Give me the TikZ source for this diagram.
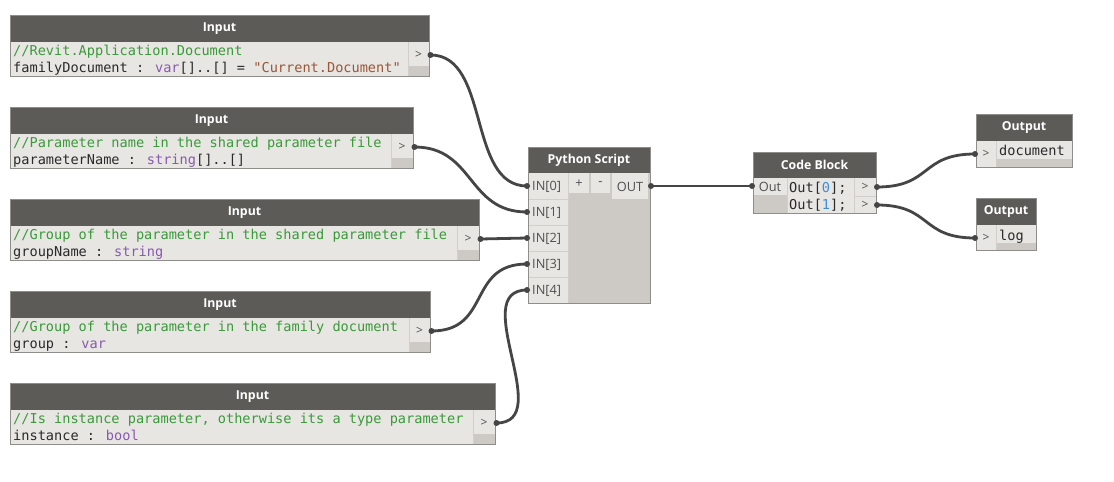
\documentclass[tikz,border=0pt]{standalone}
\usepackage{fontspec}
\newfontfamily\uifont{Open Sans}
\newfontfamily\codefont{DejaVu Sans Mono}

\definecolor{hdrfill}{HTML}{5C5B58}
\definecolor{lightcell}{HTML}{E8E6E3}
\definecolor{darkcell}{HTML}{CDC9C4}
\definecolor{edgegray}{HTML}{8F8D89}
\definecolor{sepgray}{HTML}{D2CFCA}
\definecolor{wiregray}{HTML}{454545}
\definecolor{cmtgreen}{HTML}{3A9A3A}
\definecolor{kwpurple}{HTML}{8A58B0}
\definecolor{strbrown}{HTML}{9A5636}
\definecolor{numblue}{HTML}{3C8CDC}
\definecolor{codeblack}{HTML}{2A2A2A}
\definecolor{uigray}{HTML}{505050}

\tikzset{
  hdr/.style={fill=hdrfill},
  lite/.style={fill=lightcell},
  dark/.style={fill=darkcell},
  sep/.style={draw=sepgray, line width=0.8pt},
  border/.style={draw=edgegray, line width=1pt},
  title/.style={text=white, inner sep=0pt, font=\uifont\bfseries\fontsize{12.3}{14}\selectfont},
  code/.style={text=codeblack, inner sep=0pt, font=\codefont\fontsize{13.6}{17}\selectfont},
  portsym/.style={text=uigray, inner sep=0pt, font=\uifont\fontsize{12}{14}\selectfont},
  portlbl/.style={text=uigray, inner sep=0pt, font=\uifont\fontsize{12.8}{14}\selectfont},
  wire/.style={draw=wiregray, line width=2.8pt},
  plug/.style={fill=wiregray},
}

\newcommand\cmt[1]{\textcolor{cmtgreen}{#1}}
\newcommand\kw[1]{\textcolor{kwpurple}{#1}}
\newcommand\strlit[1]{\textcolor{strbrown}{#1}}
\newcommand\num[1]{\textcolor{numblue}{#1}}

% Input node: #1 name, #2 top, #3 left edge of the port column, #4 right edge,
% #5 comment line, #6 declaration line
\newcommand\dynInput[6]{%
  \fill[hdr] (10,#2) rectangle (#4,#2+27);
  \node[title] (#1-title) at ({(10+#4)/2},#2+13.5) {Input};
  \fill[lite] (10,#2+27) rectangle (#4,#2+61);
  \fill[dark] (#3,#2+51) rectangle (#4,#2+61);
  \draw[sep] (#3,#2+27) -- (#3,#2+61);
  \node[code, anchor=base west] (#1-cmt) at (13,#2+40.5) {\cmt{#5}};
  \node[code, anchor=base west] (#1-decl) at (13,#2+57.5) {#6};
  \node[portsym] (#1-sym) at ({(#3+#4)/2},#2+40) {>};
  \node[border, anchor=north west, inner sep=0pt,
        minimum width={#4-10}, minimum height=61] (#1) at (10,#2) {};
  \coordinate (#1-out) at (#4+1.5,#2+40);
}

\begin{document}
\begin{tikzpicture}[x=1pt, y=-1pt]
\useasboundingbox[fill=white] (0,0) rectangle (1114,482);

% ---- input nodes ----
\dynInput{docin}{15}{408}{429}{//Revit.Application.Document}%
  {familyDocument : \kw{var}[]..[] = \strlit{"Current.Document"}}
\dynInput{parin}{107}{391}{413}{//Parameter name in the shared parameter file}%
  {parameterName : \kw{string}[]..[]}
\dynInput{grpin}{199}{457}{479}{//Group of the parameter in the shared parameter file}%
  {groupName : \kw{string}}
\dynInput{famgrpin}{291}{409}{430}{//Group of the parameter in the family document}%
  {group : \kw{var}}
\dynInput{instin}{383}{473}{495}{//Is instance parameter, otherwise its a type parameter}%
  {instance : \kw{bool}}

% ---- Python Script node ----
\fill[hdr] (528,147) rectangle (650,173);
\node[title] (py-title) at (589,160) {Python Script};
\fill[dark] (528,173) rectangle (650,303);
\fill[lite] (528,173) rectangle (568,303);
\foreach \k in {199,225,251,277} \draw[sep] (528,\k) -- (568,\k);
\draw[sep] (568,173) -- (568,303);
\fill[lite] (569,173) rectangle (589,193);
\fill[lite] (591,173) rectangle (610,193);
\fill[lite] (612,173) rectangle (648,199);
\node[portlbl] (py-plus) at (579,184) {+};
\node[portlbl] (py-minus) at (600.5,184) {-};
\node[portlbl] (py-outlbl) at (630,186.5) {OUT};
\foreach \k in {0,...,4}
  \node[portlbl, anchor=west] (py-lbl\k) at (532,186.5+26*\k) {IN[\k]};
\node[border, anchor=north west, inner sep=0pt,
      minimum width=122, minimum height=156] (py) at (528,147) {};
\foreach \k in {0,...,4} \coordinate (py-in\k) at (527,186+26*\k);
\coordinate (py-out) at (651,186);

% ---- Code Block node ----
\fill[hdr] (753,152) rectangle (876,178);
\node[title] (cb-title) at (814.5,165) {Code Block};
\fill[lite] (753,178) rectangle (876,213);
\fill[dark] (753,195) rectangle (787,213);
\draw[sep] (787,178) -- (787,213);
\draw[sep] (854,178) -- (854,213);
\draw[sep] (854,196) -- (876,196);
\node[portlbl] (cb-inlbl) at (770,187) {Out};
\node[code, anchor=base west] (cb-l0) at (789,192.5) {Out[\num{0}];};
\node[code, anchor=base west] (cb-l1) at (789,209.5) {Out[\num{1}];};
\node[portsym] (cb-sym0) at (865,187) {>};
\node[portsym] (cb-sym1) at (865,205) {>};
\node[border, anchor=north west, inner sep=0pt,
      minimum width=123, minimum height=61] (cb) at (753,152) {};
\coordinate (cb-in) at (752,186);
\coordinate (cb-out0) at (877,187);
\coordinate (cb-out1) at (877,205);

% ---- Output nodes ----
\fill[hdr] (976,114) rectangle (1072,141);
\node[title] (o1-title) at (1024,127.5) {Output};
\fill[lite] (976,141) rectangle (1072,167);
\fill[dark] (996,159) rectangle (1072,167);
\draw[sep] (996,141) -- (996,167);
\node[portsym] (o1-sym) at (986,154) {>};
\node[code, anchor=base west] (o1-txt) at (999,155) {document};
\node[border, anchor=north west, inner sep=0pt,
      minimum width=96, minimum height=53] (o1) at (976,114) {};
\coordinate (o1-in) at (975,154);

\fill[hdr] (976,198) rectangle (1036,225);
\node[title] (o2-title) at (1006,211.5) {Output};
\fill[lite] (976,225) rectangle (1036,250);
\fill[dark] (996,243) rectangle (1036,250);
\draw[sep] (996,225) -- (996,250);
\node[portsym] (o2-sym) at (986,238) {>};
\node[code, anchor=base west] (o2-txt) at (999,240) {log};
\node[border, anchor=north west, inner sep=0pt,
      minimum width=60, minimum height=52] (o2) at (976,198) {};
\coordinate (o2-in) at (975,238);

% ---- wires ----
\draw[wire] (docin-out) .. controls +(60,0) and +(-60,0) .. (py-in0);
\draw[wire] (parin-out) .. controls +(60,0) and +(-60,0) .. (py-in1);
\draw[wire] (grpin-out) -- (py-in2);
\draw[wire] (famgrpin-out) .. controls +(60,0) and +(-60,0) .. (py-in3);
\draw[wire] (instin-out) .. controls +(60,0) and +(-60,0) .. (py-in4);
\draw[wire] (py-out) -- (cb-in);
\draw[wire] (cb-out0) .. controls +(55,0) and +(-55,0) .. (o1-in);
\draw[wire] (cb-out1) .. controls +(55,0) and +(-55,0) .. (o2-in);

% wire plugs at the ports
\foreach \p in {docin-out,parin-out,grpin-out,famgrpin-out,instin-out,
                py-in0,py-in1,py-in2,py-in3,py-in4,py-out,
                cb-in,cb-out0,cb-out1,o1-in,o2-in}
  \fill[plug] (\p) circle (3);
\end{tikzpicture}
\end{document}
